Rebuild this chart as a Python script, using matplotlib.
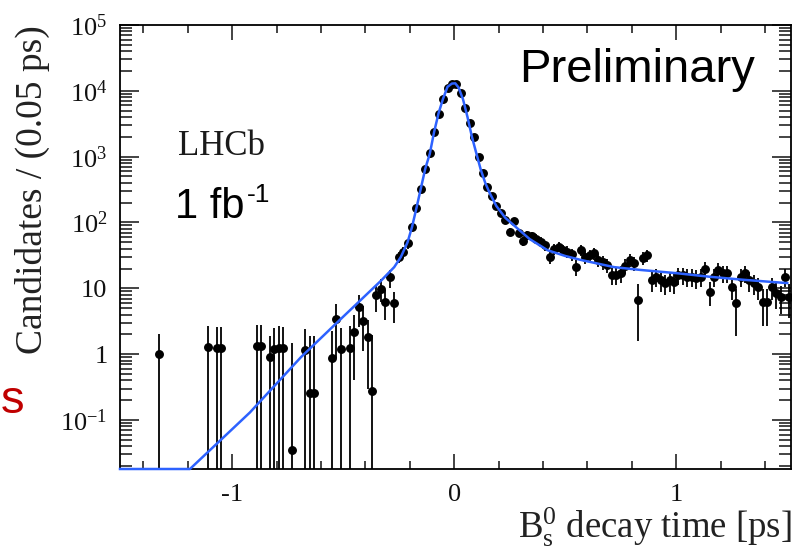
import matplotlib
matplotlib.use("Agg")
import matplotlib.pyplot as plt
import numpy as np
from matplotlib.ticker import FixedLocator, MultipleLocator, LogLocator, NullFormatter

plt.rcParams["font.family"] = "Liberation Serif"
plt.rcParams["mathtext.fontset"] = "custom"
plt.rcParams["mathtext.rm"] = "Liberation Serif"
plt.rcParams["mathtext.it"] = "Liberation Serif:italic"
plt.rcParams["mathtext.bf"] = "Liberation Serif:bold"

# data points (sWeighted candidates per bin)
decay_time = [
    -1.33, -1.11, -1.07, -1.05, -0.89, -0.87, -0.83, -0.81, -0.79, -0.77,
    -0.73, -0.67, -0.65, -0.63, -0.55, -0.53, -0.51, -0.47, -0.45, -0.43,
    -0.41, -0.39, -0.37, -0.35, -0.33, -0.31, -0.29, -0.27,
    -0.25, -0.23, -0.21, -0.19, -0.17, -0.15, -0.13, -0.11, -0.09, -0.07,
    -0.05, -0.03, -0.01, 0.01, 0.03, 0.05, 0.07, 0.09, 0.11, 0.13,
    0.15, 0.17, 0.19, 0.21, 0.23, 0.25, 0.27, 0.29, 0.31, 0.33,
    0.35, 0.37, 0.39, 0.41, 0.43, 0.45, 0.47, 0.49, 0.51, 0.53,
    0.55, 0.57, 0.59, 0.61, 0.63, 0.65, 0.67, 0.69, 0.71, 0.73,
    0.75, 0.77, 0.79, 0.81, 0.83, 0.85, 0.87, 0.89, 0.91, 0.93,
    0.95, 0.97, 0.99, 1.01, 1.03, 1.05, 1.07, 1.09, 1.11, 1.13,
    1.15, 1.17, 1.19, 1.21, 1.23, 1.25, 1.27, 1.29, 1.31, 1.33,
    1.35, 1.37, 1.39, 1.41, 1.43, 1.45, 1.47, 1.49, 1.51,
]
candidates = [
    1.0, 1.29, 1.22, 1.22, 1.34, 1.34, 0.91, 1.18, 1.26, 1.23,
    0.035, 1.15, 0.26, 0.26, 0.86, 3.37, 1.18, 1.25, 2.2, 5.2,
    3.2, 1.8, 0.28, 7.9, 9.9, 6.3, 14.6, 5.9,
    30, 36, 48, 86, 165, 320, 650, 1120, 2350, 4500,
    7500, 11000, 12900, 12700, 9300, 5500, 3200, 2000, 1000, 560,
    350, 250, 177, 137, 108, 72, 105, 70, 52, 64,
    63, 57, 51, 45, 30, 40, 43, 38, 36, 33,
    21, 38, 30, 32, 34, 27, 25, 22.5, 15.9, 15.9,
    16.8, 22, 27, 24, 6.6, 29, 32, 13.3, 15, 13.3,
    11.9, 13.3, 12.6, 15.9, 15.9, 15, 15, 14.2, 15, 20,
    8.9, 15, 18.9, 16.8, 16.8, 10.5, 5.9, 15, 16.8, 13.3,
    11.9, 10.5, 6.2, 6.2, 10.5, 8.4, 7.4, 15, 7.5,
]
uncertainty = [
    1.0, 1.4, 1.4, 1.4, 1.45, 1.45, 0.97, 1.3, 1.4, 1.35,
    1.43, 1.25, 1.6, 1.6, 1.4, 2.5, 1.3, 1.4, 1.8, 2.6,
    2.1, 1.5, 1.7, 3.5, 3.8, 3.0, 4.5, 2.9,
    6, 7, 8, 11, 15, 21, 30, 40, 58, 80,
    104, 126, 136, 135, 116, 89, 68, 54, 38, 28,
    22, 19, 16, 14, 12.5, 10, 12, 10, 8.7, 9.6,
    9.5, 9, 8.6, 8, 6.6, 7.6, 7.9, 7.4, 7.2, 6.9,
    5.5, 7.4, 6.6, 6.8, 7, 6.2, 6, 5.7, 4.8, 4.8,
    4.9, 5.6, 6.2, 5.9, 5, 6.5, 6.8, 4.4, 4.6, 4.4,
    4.1, 4.4, 4.3, 4.8, 4.8, 4.6, 4.6, 4.5, 4.6, 5.4,
    3.6, 4.6, 5.2, 4.9, 4.9, 3.9, 4, 4.6, 4.9, 4.4,
    4.1, 3.9, 3.5, 3.5, 3.9, 3.5, 3.3, 4.6, 4,
]

# fit curve
fit_time = [-1.505, -1.19, -0.92, -0.69, -0.50, -0.33, -0.27, -0.24, -0.21, -0.19,
            -0.17, -0.15, -0.13, -0.11, -0.09, -0.07, -0.05, -0.03, -0.01, 0.005,
            0.02, 0.04, 0.06, 0.08, 0.10, 0.12, 0.14, 0.16, 0.19, 0.23,
            0.27, 0.34, 0.42, 0.50, 0.57, 0.72, 0.84, 1.0, 1.15, 1.3, 1.5]
fit_value = [0.018, 0.018, 0.13, 0.9, 3.7, 13, 21, 30, 50, 85,
             165, 330, 660, 1100, 2400, 4600, 7600, 11500, 12900, 13000,
             11200, 7400, 4000, 2000, 1120, 630, 400, 280, 178, 118,
             90, 56, 38, 31, 27, 21, 19, 17, 15, 13.5, 12]

ytick_vals = [0.1, 1, 10, 100, 1e3, 1e4, 1e5]
ytick_labels = ["$10^{-1}$", "1", "10", "$10^{2}$", "$10^{3}$", "$10^{4}$", "$10^{5}$"]
xtick_vals = [-1, 0, 1]
xtick_labels = ["-1", "0", "1"]

W, H = 794, 548
fig = plt.figure(figsize=(W / 100, H / 100), dpi=100)
ax = fig.add_axes([120 / W, 79 / H, 671 / W, 444 / H])

y = np.array(candidates)
e = np.array(uncertainty)
lower = np.minimum(e, y - 1e-4)
ax.errorbar(decay_time, y, yerr=[lower, e], fmt="o", color="black", ms=5.4,
            elinewidth=1.3, capsize=0, zorder=2)
ax.plot(fit_time, fit_value, color="#2d62ff", lw=1.8, zorder=4, clip_on=False)

ax.set_yscale("log")
ax.set_xlim(-1.505, 1.517)
ax.set_ylim(0.018, 1e5)

ax.yaxis.set_major_locator(FixedLocator(ytick_vals))
ax.set_yticklabels(ytick_labels)
ax.yaxis.set_minor_locator(LogLocator(base=10, subs=np.arange(2, 10), numticks=100))
ax.yaxis.set_minor_formatter(NullFormatter())
ax.set_xticks(xtick_vals)
ax.set_xticklabels(xtick_labels)
ax.xaxis.set_minor_locator(MultipleLocator(0.2))

ax.tick_params(which="both", direction="in", top=True, right=True, colors="#111111",
               labelsize=19, width=1.1)
ax.tick_params(axis="y", which="major", length=14, pad=9)
ax.tick_params(axis="y", which="minor", length=8.5)
ax.tick_params(axis="x", which="major", length=11, pad=11)
ax.tick_params(axis="x", which="minor", length=6)
for s in ax.spines.values():
    s.set_linewidth(1.3)

fig.text(32 / W, 1 - 25 / H, "Candidates / (0.05 ps)", rotation=90, ha="center",
         va="top", fontsize=27, color="#222222")
fig.text(792 / W, 1 - 538 / H, r"$\mathrm{B}_{\mathrm{s}}^{0}$ decay time [ps]",
         ha="right", va="baseline", fontsize=26.5, color="#222222")

fig.text(519 / W, 1 - 82 / H, "Preliminary", family="Liberation Sans", fontsize=34,
         ha="left", va="baseline", color="black")
fig.text(178 / W, 1 - 155 / H, "LHCb", fontsize=25, ha="left", va="baseline",
         color="#1a1a1a")
fig.text(175 / W, 1 - 218 / H, "1 fb", family="Liberation Sans", fontsize=30,
         ha="left", va="baseline", color="black")
fig.text(247 / W, 1 - 202 / H, "-1", family="Liberation Sans", fontsize=19,
         ha="left", va="baseline", color="black")
# fragment of slide text at the left edge
fig.text(1 / W, 1 - 413 / H, "s", family="Liberation Sans", fontsize=34,
         ha="left", va="baseline", color="#c00000")

fig.savefig("out.png", dpi=100)
